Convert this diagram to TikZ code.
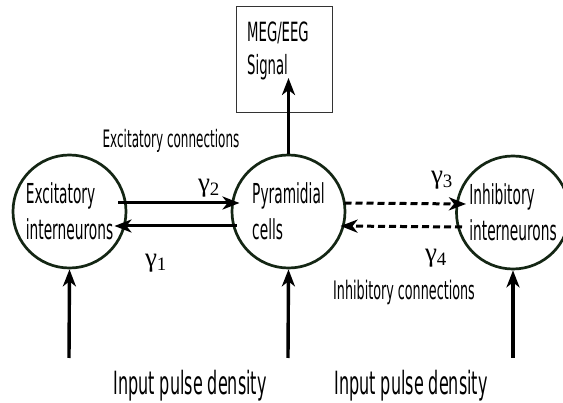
\documentclass[tikz,border=0pt]{standalone}
\usepackage{fontspec}
\setmainfont[FakeStretch=0.5]{DejaVu Sans}
\newfontfamily\gfont{Liberation Serif}
\usepackage{xcolor}
\usepackage{tikz}
\usetikzlibrary{positioning,calc,arrows.meta}

\definecolor{cellgreen}{RGB}{20,38,20}

\tikzset{
  neuron/.style={draw=cellgreen, circle, line width=2.7pt, minimum size=113pt,
    inner sep=0pt, align=left, font=\fontsize{27.5}{36}\selectfont},
  sigbox/.style={draw=black!80, line width=1pt, minimum width=96pt,
    minimum height=106pt, inner sep=0pt},
  tip/.style={-{Stealth[length=17pt,width=13pt,inset=5pt]}},
  excarrow/.style={tip, line width=3pt},
  inharrow/.style={tip, line width=3pt, dash pattern=on 7pt off 4pt},
  inarrow/.style={tip, line width=3.4pt},
  lbl/.style={anchor=base, inner sep=0pt},
  gam/.style={inner sep=0pt, font=\gfont\fontsize{27}{27}\selectfont}
}

\begin{document}
\begin{tikzpicture}[x=1pt, y=-1pt]
    \useasboundingbox (0,0) rectangle (563,403);

    \coordinate (in1) at (69, 358);
    \coordinate (in2) at (288, 358);
    \coordinate (in3) at (513, 358);

    \node [neuron] (exc) at (69.5, 211.5) {Excitatory\\interneurons};
    \node [neuron] (pyr) at (288.5, 211.5) {Pyramidial\\cells};
    \node [neuron] (inh) at (513, 212.5) {Inhibitory\\interneurons};

    \node [sigbox] (sig) at (284, 60) {};
    \node [anchor=north west, align=left, inner sep=0pt,
      font=\fontsize{26.5}{33}\selectfont] (sigtxt) at (247, 22) {MEG/EEG\\Signal};

    \node [lbl, font=\fontsize{24}{24}\selectfont] (exclbl) at (171, 148) {Excitatory connections};
    \node [lbl, font=\fontsize{25.5}{26}\selectfont] (inhlbl) at (404, 300) {Inhibitory connections};
    \node [lbl, font=\fontsize{32}{32}\selectfont] (inp1) at (190, 395) {Input pulse density};
    \node [lbl, font=\fontsize{32}{32}\selectfont] (inp2) at (411, 395) {Input pulse density};

    \node [gam] (g2) at (209, 188) {γ\textsubscript{2}};
    \node [gam] (g1) at (156, 263) {γ\textsubscript{1}};
    \node [gam] (g3) at (442, 180) {γ\textsubscript{3}};
    \node [gam] (g4) at (436, 258) {γ\textsubscript{4}};

    % excitatory loop
    \draw [excarrow] ($(exc.center)+(48.5,-8.5)$) to ($(pyr.center)+(-49,-8.5)$);
    \draw [excarrow] ($(pyr.center)+(-52,14.5)$) to ($(exc.center)+(45,14.5)$);

    % inhibitory loop
    \draw [inharrow] ($(pyr.center)+(56,-8.5)$) to ($(inh.center)+(-47,-8.5)$);
    \draw [inharrow] ($(inh.center)+(-51,14.5)$) to ($(pyr.center)+(52,14.5)$);

    \draw [inarrow] (pyr.north) to ($(pyr.north |- sig.center)+(0,18)$);

    \draw [inarrow] (in1) to (exc.south);
    \draw [inarrow] (in2) to (pyr.south);
    \draw [inarrow] (in3) to (inh.south);
  \end{tikzpicture}
\end{document}
